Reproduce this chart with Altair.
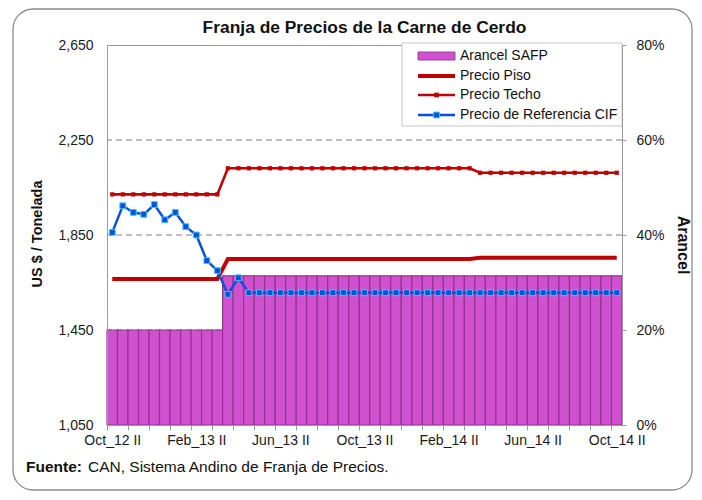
import json
import altair as alt
import pandas as pd

# ---------------- data ----------------
periods = [
    "Oct_12 II", "Nov_12 I", "Nov_12 II", "Dic_12 I", "Dic_12 II",
    "Ene_13 I", "Ene_13 II", "Feb_13 I", "Feb_13 II", "Mar_13 I", "Mar_13 II",
    "Abr_13 I", "Abr_13 II", "May_13 I", "May_13 II", "Jun_13 I", "Jun_13 II",
    "Jul_13 I", "Jul_13 II", "Ago_13 I", "Ago_13 II", "Sep_13 I", "Sep_13 II",
    "Oct_13 I", "Oct_13 II", "Nov_13 I", "Nov_13 II", "Dic_13 I", "Dic_13 II",
    "Ene_14 I", "Ene_14 II", "Feb_14 I", "Feb_14 II", "Mar_14 I", "Mar_14 II",
    "Abr_14 I", "Abr_14 II", "May_14 I", "May_14 II", "Jun_14 I", "Jun_14 II",
    "Jul_14 I", "Jul_14 II", "Ago_14 I", "Ago_14 II", "Sep_14 I", "Sep_14 II",
    "Oct_14 I", "Oct_14 II",
]

arancel_safp = [
    0.20, 0.20, 0.20, 0.20, 0.20, 0.20, 0.20, 0.20, 0.20, 0.20, 0.20,
    0.314, 0.314, 0.314, 0.314, 0.314, 0.314, 0.314, 0.314, 0.314, 0.314,
    0.314, 0.314, 0.314, 0.314, 0.314, 0.314, 0.314, 0.314, 0.314, 0.314,
    0.314, 0.314, 0.314, 0.314, 0.314, 0.314, 0.314, 0.314, 0.314, 0.314,
    0.314, 0.314, 0.314, 0.314, 0.314, 0.314, 0.314, 0.314,
]

precio_piso = [
    1665, 1665, 1665, 1665, 1665, 1665, 1665, 1665, 1665, 1665, 1665,
    1749, 1749, 1749, 1749, 1749, 1749, 1749, 1749, 1749, 1749, 1749, 1749,
    1749, 1749, 1749, 1749, 1749, 1749, 1749, 1749, 1749, 1749, 1749, 1749,
    1754, 1754, 1754, 1754, 1754, 1754, 1754, 1754, 1754, 1754, 1754, 1754,
    1754, 1754,
]

precio_techo = [
    2021, 2021, 2021, 2021, 2021, 2021, 2021, 2021, 2021, 2021, 2021,
    2131, 2131, 2131, 2131, 2131, 2131, 2131, 2131, 2131, 2131, 2131, 2131,
    2131, 2131, 2131, 2131, 2131, 2131, 2131, 2131, 2131, 2131, 2131, 2131,
    2112, 2112, 2112, 2112, 2112, 2112, 2112, 2112, 2112, 2112, 2112, 2112,
    2112, 2112,
]

precio_cif = [
    1861, 1973, 1945, 1937, 1978, 1914, 1945, 1885, 1850, 1742, 1700,
    1600, 1670, 1607, 1607, 1607, 1607, 1607, 1607, 1607, 1607, 1607, 1607,
    1607, 1607, 1607, 1607, 1607, 1607, 1607, 1607, 1607, 1607, 1607, 1607,
    1607, 1607, 1607, 1607, 1607, 1607, 1607, 1607, 1607, 1607, 1607, 1607,
    1607, 1607,
]

left_ticks = [1050, 1450, 1850, 2250, 2650]
right_ticks = [0.0, 0.2, 0.4, 0.6, 0.8]
grid_values = [1450, 1850, 2250]

legend_labels = ["Arancel SAFP", "Precio Piso", "Precio Techo", "Precio de Referencia CIF"]

title_text = "Franja de Precios de la Carne de Cerdo"
left_title = "US $ / Tonelada"
right_title = "Arancel"
source_bold = "Fuente:"
source_text = "CAN, Sistema Andino de Franja de Precios."

# ---------------- table ----------------
df = pd.DataFrame({
    "idx": list(range(len(periods))),
    "period": periods,
    "arancel": arancel_safp,
    "piso": precio_piso,
    "techo": precio_techo,
    "cif": precio_cif,
})
grid_df = pd.DataFrame({"v": grid_values})
one = pd.DataFrame({"a": [0]})

W, H = 515, 380
N = len(periods)
FONT = "Liberation Sans"
DARKRED = "#C00000"
BLUE = "#0A4FD8"
AXC = "#9a9a9a"

tick_vals = [i - 0.5 for i in range(0, N, 2)]
label_expr = ("((datum.value + 0.5) % 8 == 0) ? " + json.dumps(periods)
              + "[datum.value + 0.5] : ''")

x_scale = alt.Scale(domain=[-0.5, N - 0.5], nice=False, zero=False)
x_axis = alt.Axis(values=tick_vals, labelExpr=label_expr, labelOffset=W / N / 2,
                  labelFlush=False, labelOverlap=False, grid=False, tickSize=5,
                  tickColor=AXC, domainColor=AXC, labelFont=FONT,
                  labelFontSize=14, labelColor="#1a1a1a", labelPadding=3, title=None,
                  zindex=1)

left_scale = alt.Scale(domain=[1050, 2650], nice=False, zero=False)
left_axis = alt.Axis(orient="left", values=left_ticks, format=",.0f", grid=False,
                     tickSize=0, labelPadding=14, domainColor=AXC,
                     labelFont=FONT, labelFontSize=14, labelColor="#1a1a1a", title=None,
                     zindex=1)
right_scale = alt.Scale(domain=[0, 0.8], nice=False, zero=True)
right_axis = alt.Axis(orient="right", values=right_ticks, format=".0%", grid=False,
                      tickSize=4, tickColor=AXC, labelPadding=10,
                      domainColor=AXC, labelFont=FONT, labelFontSize=14,
                      labelColor="#1a1a1a", title=None, zindex=1)

# ---------------- frame ----------------
frame = alt.Chart(one).mark_rect(filled=False, stroke="#8c8c8c", strokeWidth=1.3,
                                 cornerRadius=20).encode(
    x=alt.value(-94), x2=alt.value(W + 70), y=alt.value(-36), y2=alt.value(H + 65))

grid = alt.Chart(grid_df).mark_rule(color="#7f7f7f", strokeDash=[6, 4], strokeWidth=1).encode(
    y=alt.Y("v:Q", scale=left_scale, axis=None))

bars = alt.Chart(df).transform_calculate(
    lo="datum.idx - 0.5", hi="datum.idx + 0.5", base="0"
).mark_rect(color="#D050D0", stroke="#8E388E", strokeWidth=1.2, opacity=1).encode(
    x=alt.X("lo:Q", scale=x_scale, axis=x_axis),
    x2="hi:Q",
    y=alt.Y("arancel:Q", scale=right_scale, axis=right_axis),
    y2="base:Q",
)

piso = alt.Chart(df).mark_line(color=DARKRED, strokeWidth=4).encode(
    x=alt.X("idx:Q", scale=x_scale, axis=x_axis),
    y=alt.Y("piso:Q", scale=left_scale, axis=left_axis))
techo = alt.Chart(df).mark_line(color=DARKRED, strokeWidth=2.6).encode(
    x=alt.X("idx:Q", scale=x_scale, axis=x_axis),
    y=alt.Y("techo:Q", scale=left_scale, axis=left_axis))
techo_pts = alt.Chart(df).mark_point(shape="square", filled=True, color=DARKRED,
                                     size=18, opacity=1).encode(
    x=alt.X("idx:Q", scale=x_scale, axis=x_axis),
    y=alt.Y("techo:Q", scale=left_scale, axis=left_axis))
cif = alt.Chart(df).mark_line(color=BLUE, strokeWidth=2.5).encode(
    x=alt.X("idx:Q", scale=x_scale, axis=x_axis),
    y=alt.Y("cif:Q", scale=left_scale, axis=left_axis))
cif_pts = alt.Chart(df).mark_point(shape="square", filled=True, color=BLUE,
                                   stroke="#38C8FF", strokeWidth=1, size=34,
                                   opacity=1).encode(
    x=alt.X("idx:Q", scale=x_scale, axis=x_axis),
    y=alt.Y("cif:Q", scale=left_scale, axis=left_axis))

lines = alt.layer(piso, techo, techo_pts, cif, cif_pts)

# ---------------- legend ----------------
LX0, LX1, LT = 311, 348, 353
ly = [11, 31, 50, 70]
leg_box = alt.Chart(one).mark_rect(fill="white", stroke="#c8c8c8", strokeWidth=1).encode(
    x=alt.value(295), x2=alt.value(W), y=alt.value(-2), y2=alt.value(81))
leg_bar = alt.Chart(one).mark_rect(color="#D050D0", stroke="#9A449A", strokeWidth=1).encode(
    x=alt.value(LX0), x2=alt.value(LX1), y=alt.value(ly[0] - 4), y2=alt.value(ly[0] + 4))
leg_piso = alt.Chart(one).mark_rule(color=DARKRED, strokeWidth=4).encode(
    x=alt.value(LX0), x2=alt.value(LX1), y=alt.value(ly[1]))
leg_techo = alt.Chart(one).mark_rule(color=DARKRED, strokeWidth=2.6).encode(
    x=alt.value(LX0), x2=alt.value(LX1), y=alt.value(ly[2]))
leg_techo_pt = alt.Chart(one).mark_point(shape="square", filled=True, color=DARKRED,
                                         size=22, opacity=1).encode(
    x=alt.value((LX0 + LX1) / 2), y=alt.value(ly[2]))
leg_cif = alt.Chart(one).mark_rule(color=BLUE, strokeWidth=2.5).encode(
    x=alt.value(LX0), x2=alt.value(LX1), y=alt.value(ly[3]))
leg_cif_pt = alt.Chart(one).mark_point(shape="square", filled=True, color=BLUE,
                                       stroke="#38C8FF", strokeWidth=1, size=34,
                                       opacity=1).encode(
    x=alt.value((LX0 + LX1) / 2), y=alt.value(ly[3]))
leg_df = pd.DataFrame({"label": legend_labels, "yy": ly})
leg_text = alt.Chart(leg_df).mark_text(align="left", baseline="middle", font=FONT,
                                       fontSize=14, color="#111").encode(
    x=alt.value(LT), y=alt.Y("yy:Q", scale=alt.Scale(domain=[0, H], range=[0, H]), axis=None),
    text="label:N")

# ---------------- texts ----------------
title = alt.Chart(one).mark_text(text=title_text, font=FONT, fontSize=17.4, fontWeight="bold",
                                 color="#111", align="center", baseline="middle").encode(
    x=alt.value(W / 2), y=alt.value(-17))
ltitle = alt.Chart(one).mark_text(text=left_title, font=FONT, fontSize=14.5, fontWeight="bold",
                                  color="#111", align="center", baseline="middle",
                                  angle=270).encode(
    x=alt.value(-69), y=alt.value(189))
rtitle = alt.Chart(one).mark_text(text=right_title, font=FONT, fontSize=16, fontWeight="bold",
                                  color="#111", align="center", baseline="middle",
                                  angle=90).encode(
    x=alt.value(W + 61), y=alt.value(200))
src1 = alt.Chart(one).mark_text(text=source_bold, font=FONT, fontSize=15.5, fontWeight="bold",
                                color="#111", align="left", baseline="middle").encode(
    x=alt.value(-81), y=alt.value(H + 42))
src2 = alt.Chart(one).mark_text(text=source_text, font=FONT, fontSize=15.5,
                                color="#111", align="left", baseline="middle").encode(
    x=alt.value(-19), y=alt.value(H + 42))

chart = alt.layer(
    frame, grid, bars, lines,
    leg_box, leg_bar, leg_piso, leg_techo, leg_techo_pt, leg_cif, leg_cif_pt, leg_text,
    title, ltitle, rtitle, src1, src2,
).resolve_scale(y="independent").properties(
    width=W, height=H,
    autosize=alt.AutoSizeParams(type="none"),
    padding={"left": 99, "top": 37, "right": 72, "bottom": 67},
).configure_view(stroke=AXC, strokeWidth=1)

chart.save("out.html", embed_options={"renderer": "svg", "actions": False})
